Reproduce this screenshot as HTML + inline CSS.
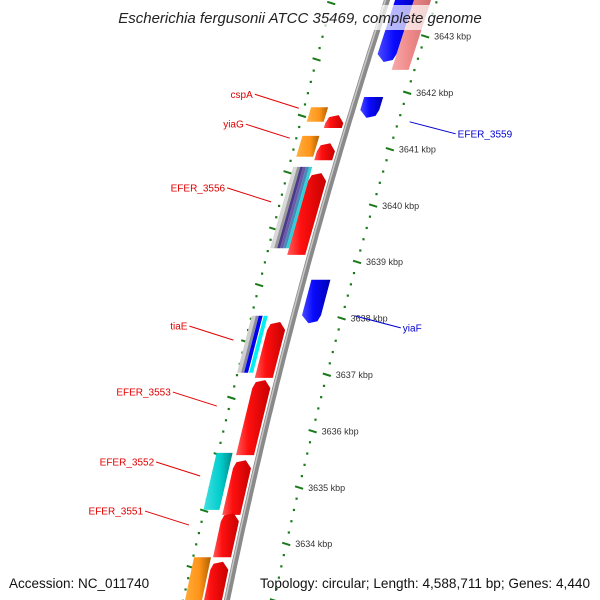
<!DOCTYPE html>
<html><head><meta charset="utf-8"><style>
html,body{margin:0;padding:0;background:#fff}
svg{display:block}
text{font-family:"Liberation Sans","DejaVu Sans",sans-serif}
</style></head><body>
<svg id="map" width="600" height="600" viewBox="0 0 600 600" xmlns="http://www.w3.org/2000/svg">
<defs>
<linearGradient id="g-red" x1="0" x2="1" y1="0" y2="0"><stop offset="0" stop-color="#ff5a5a"/><stop offset="0.35" stop-color="#ff1010"/><stop offset="1" stop-color="#c80000"/></linearGradient>
<linearGradient id="g-blue" x1="0" x2="1" y1="0" y2="0"><stop offset="0" stop-color="#4a4aff"/><stop offset="0.4" stop-color="#0a0aff"/><stop offset="1" stop-color="#0000b0"/></linearGradient>
<linearGradient id="g-pink" x1="0" x2="1" y1="0" y2="0"><stop offset="0" stop-color="#f7a8a8"/><stop offset="0.4" stop-color="#f08a8a"/><stop offset="1" stop-color="#c86a6a"/></linearGradient>
<linearGradient id="g-orange" x1="0" x2="1" y1="0" y2="0"><stop offset="0" stop-color="#ffb040"/><stop offset="0.6" stop-color="#ff9418"/><stop offset="1" stop-color="#b06000"/></linearGradient>
<linearGradient id="g-cyan" x1="0" x2="1" y1="0" y2="0"><stop offset="0" stop-color="#40e0e0"/><stop offset="0.6" stop-color="#00cccc"/><stop offset="1" stop-color="#008888"/></linearGradient>
</defs>
<g id="rings"></g>
<g id="feats"></g>
<g id="labels"></g>
<rect x="105" y="5" width="390" height="25" fill="#fff" fill-opacity="0.7"/>
<text x="300" y="23" text-anchor="middle" font-size="15" font-style="italic" fill="#222">Escherichia fergusonii ATCC 35469, complete genome</text>
<text x="9" y="588" font-size="13.5" fill="#111">Accession: NC_011740</text>
<text x="590" y="588" text-anchor="end" font-size="13.6" fill="#111">Topology: circular; Length: 4,588,711 bp; Genes: 4,440</text>
</svg>
<script>
// data
const majorTicks = [3643,3642,3641,3640,3639,3638,3637,3636,3635,3634];
const tickLabels = ["3643 kbp","3642 kbp","3641 kbp","3640 kbp","3639 kbp","3638 kbp","3637 kbp","3636 kbp","3635 kbp","3634 kbp"];
const featNames = ["f-blue-top","f-pink-top","f-blue-3559","f-blue-yiaF","f-red-1","f-red-2","f-red-3","f-red-4","f-red-5","f-red-6","f-red-7","f-red-8","cspA","yiaG","EFER_3556","tiaE","EFER_3552","f-orange-bottom"];
const featStart = [3642.54,3642.40,3641.55,3637.91,3641.37,3640.80,3639.12,3636.94,3635.57,3634.51,3633.76,3632.70,3641.48,3640.86,3639.24,3637.03,3634.60,3632.70];
const featEnd   = [3643.90,3643.90,3641.92,3638.68,3641.60,3641.10,3640.57,3637.93,3636.90,3635.48,3634.54,3633.68,3641.74,3641.23,3640.68,3638.04,3635.61,3633.76];
const featStrand = [-1,0,-1,-1,1,1,1,1,1,1,1,1,0,0,0,0,0,0];
const featType = ["blue","pink","blue","blue","red","red","red","red","red","red","red","red","orange","orange","stack1","stack2","cyan","orange"];
const labelText = ["cspA","yiaG","EFER_3556","tiaE","EFER_3553","EFER_3552","EFER_3551","EFER_3559","yiaF"];
const labelKbp = [3641.72,3641.19,3640.06,3637.61,3636.44,3635.20,3634.33,3641.48,3638.04];
const labelSide = [-1,-1,-1,-1,-1,-1,-1,1,1];

const NS="http://www.w3.org/2000/svg";
function ky(k){return (3643.64-k)*56.4;}
function bx(y){return 387-0.3267*y+0.0001*y*y;}
function lx(y){return 332-0.2622*y+0.000023*y*y;}
function rx(y){return bx(y)+50-y/200;}
function mk(tag,attrs,parent){const e=document.createElementNS(NS,tag);for(const k in attrs)e.setAttribute(k,attrs[k]);parent.appendChild(e);return e;}
const rings=document.getElementById('rings'),feats=document.getElementById('feats'),labs=document.getElementById('labels');

let bp="";for(let y=-5;y<=605;y+=5){bp+=(y<0?"M":"L")+bx(y).toFixed(1)+","+y+" ";}
const bb1=mk('path',{d:bp,stroke:"#8a8a8a","stroke-width":6,fill:"none"},rings);


const bb2=mk('path',{d:bp,stroke:"#c8c8c8","stroke-width":1.5,fill:"none",transform:"translate(-1.5,0)"},rings);



for(let k=3644*5;k>=3632*5;k--){
  const kb=k/5, y=ky(kb); if(y<-5||y>605)continue;
  const x=rx(y);
  if(k%5===0){
    const t=mk('line',{x1:x-4,y1:y-1,x2:x+4,y2:y+1.5,stroke:"#1a7a1a","stroke-width":2},rings);
    
    
  } else {
    const d=mk('rect',{x:x-1,y:y-1,width:2.2,height:2.2,fill:"#1a7a1a"},rings);
    
    
  }
}
majorTicks.forEach((kb,i)=>{
  const y=ky(kb);
  const t=mk('text',{x:rx(y)+9,y:y+3.5,"font-size":"9",fill:"#333"},labs);
  t.textContent=tickLabels[i];
  
  
});
for(let k=3644*5;k>=3632*5;k--){
  const kb=k/5+0.59, y=ky(kb); if(y<-5||y>605)continue;
  const x=lx(y);
  if(k%5===0){
    const t=mk('line',{x1:x-4,y1:y-1,x2:x+4,y2:y+1.5,stroke:"#1a7a1a","stroke-width":2},rings);
    
    
  } else {
    const d=mk('rect',{x:x-1,y:y-1,width:2.2,height:2.2,fill:"#1a7a1a"},rings);
    
    
  }
}

function band(y1,y2,o1,o2,strand){
  const h=8; let pts=[];
  const P=(y,o)=>[(bx(y)+o).toFixed(1),y.toFixed(1)];
  if(strand===1){
    const m=(o1+o2)/2;
    pts=[P(y2,o1),P(y1+h,o1),P(y1+2,o1+2),P(y1,m+2),P(y1+h,o2),P(y2,o2)];
  } else if(strand===-1){
    const m=(o1+o2)/2;
    pts=[P(y1,o1),P(y2-h,o1),P(y2,m-1),P(y2-2,o2-2),P(y2-h,o2),P(y1,o2)];
  } else {
    pts=[P(y1,o1),P(y2,o1),P(y2,o2),P(y1,o2)];
  }
  return pts.map(p=>p.join(",")).join(" ");
}
const offs={red:[-23,-5],blue:[8,27],pink:[27,44],orange:[-42,-25],cyan:[-43,-27]};
const stack1=[["#d8d8d8",-42,-38],["#9a9a9a",-38,-35],["#4a3a8a",-35,-32],["#6a5aa8",-32,-29],["#4a8ab8",-29,-26],["#30d0d8",-26,-23]];
const stack2=[["#cfcfcf",-42,-38],["#8888a0",-38,-35],["#0000f0",-35,-31],["#ffffff",-31,-30],["#00f0f0",-30,-26]];
featNames.forEach((nm,i)=>{
  const y1=ky(featEnd[i]), y2=ky(featStart[i]);
  const tp=featType[i];
  if(tp==="stack1"||tp==="stack2"){
    const g=mk('g',{},feats);
    
    
    (tp==="stack1"?stack1:stack2).forEach(s=>{
      mk('polygon',{points:band(y1,y2,s[1],s[2],0),fill:s[0]},g);
    });
    return;
  }
  const o=offs[tp];
  const p=mk('polygon',{points:band(y1,y2,o[0],o[1],featStrand[i]),fill:"url(#g-"+tp+")"},feats);
  
  
});

labelText.forEach((t,i)=>{
  const y=ky(labelKbp[i]);
  const side=labelSide[i];
  const col=side<0?"#e00000":"#0000d0";
  let ax,lxp,ly,tx,anchor;
  if(side<0){ax=bx(y)-54; lxp=ax-44; ly=y-14; tx=lxp-2; anchor="end";}
  else{ax=bx(y)+61; lxp=ax+46; ly=y+12; tx=lxp+2; anchor="start";}
  const ln=mk('line',{x1:ax,y1:y,x2:lxp,y2:ly,stroke:col,"stroke-width":1},labs);
  
  
  const tt=mk('text',{x:tx,y:ly+3.5,"font-size":"10",fill:col,"text-anchor":anchor},labs);
  tt.textContent=t;
  
  
});
</script>
</body></html>
